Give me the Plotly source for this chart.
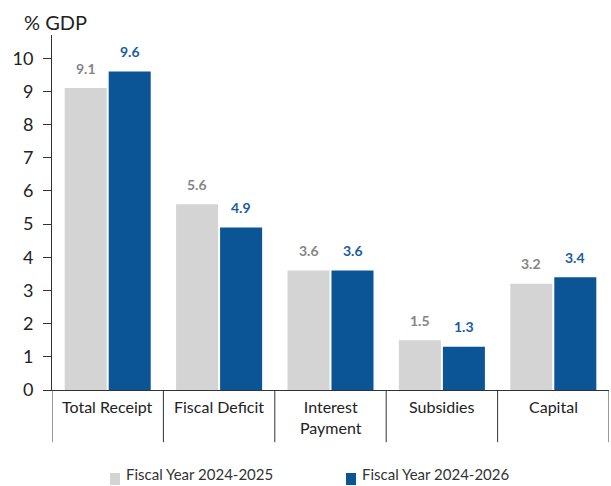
import plotly.graph_objects as go

categories = ["Total Receipt", "Fiscal Deficit", "Interest<br>Payment", "Subsidies", "Capital"]
series_names = ["Fiscal Year 2024-2025", "Fiscal Year 2024-2026"]
fy_2025 = [9.1, 5.6, 3.6, 1.5, 3.2]
fy_2026 = [9.6, 4.9, 3.6, 1.3, 3.4]
y_ticks = list(range(0, 11))

GRAY = "#d4d4d4"
BLUE = "#0b5596"
GRAY_TXT = "#858585"
BLUE_TXT = "#1a5c9c"
AXIS = "#333333"
FONT = "Lato, 'Open Sans', sans-serif"

x_idx = list(range(len(categories)))

fig = go.Figure()
for name, vals, col in [(series_names[0], fy_2025, GRAY), (series_names[1], fy_2026, BLUE)]:
    fig.add_trace(go.Bar(x=x_idx, y=vals, name=name, marker=dict(color=col, line=dict(width=0)),
                         showlegend=False))

annotations = []
# value labels above each bar
for vals, shift, col in [(fy_2025, -22, GRAY_TXT), (fy_2026, 22, BLUE_TXT)]:
    for i, v in zip(x_idx, vals):
        annotations.append(dict(x=i, y=v, xref="x", yref="y", text=f"<b>{v:.1f}</b>",
                                showarrow=False, xshift=shift, yshift=20, yanchor="middle",
                                font=dict(family=FONT, size=14, color=col)))

# category labels under the axis
for i, c in zip(x_idx, categories):
    annotations.append(dict(x=i, y=0, xref="x", yref="y", text=c, showarrow=False,
                            yanchor="top", yshift=-5, align="center",
                            font=dict(family=FONT, size=16, color="#222222")))

# axis title
annotations.append(dict(x=0, y=1, xref="paper", yref="paper", text="% GDP", showarrow=False,
                        xanchor="left", yanchor="middle", xshift=-30, yshift=13,
                        font=dict(family=FONT, size=20, color="#222222")))

shapes = []
# category separators extending below the axis
for k in range(len(categories) + 1):
    shapes.append(dict(type="line", xref="x", yref="paper", x0=k - 0.5, x1=k - 0.5,
                       y0=0, y1=-0.147, line=dict(color=AXIS, width=1)))

# legend entries
legend_items = [(series_names[0], GRAY, 110), (series_names[1], BLUE, 346)]
for name, col, px in legend_items:
    shapes.append(dict(type="rect", xref="paper", yref="paper",
                       x0=(px - 52) / 557, x1=(px + 10 - 52) / 557,
                       y0=-(485 - 390) / 355, y1=-(473 - 390) / 355,
                       fillcolor=col, line=dict(width=0)))
    annotations.append(dict(x=(px + 14 - 52) / 557, y=-(485 - 390) / 355, xref="paper", yref="paper",
                            text=name, showarrow=False, xanchor="left", yanchor="bottom",
                            font=dict(family=FONT, size=15, color="#333333")))

fig.update_layout(
    width=611, height=486,
    margin=dict(l=52, r=2, t=35, b=96),
    paper_bgcolor="white", plot_bgcolor="white",
    barmode="group", bargap=0.21, bargroupgap=0.045,
    font=dict(family=FONT, color="#222222"),
    xaxis=dict(range=[-0.5, 4.5], showticklabels=False, showgrid=False, zeroline=False,
               showline=True, linecolor=AXIS, linewidth=1, ticks=""),
    yaxis=dict(range=[0, 10.7], tickvals=y_ticks, showgrid=False, zeroline=False,
               showline=True, linecolor=AXIS, linewidth=1, ticks="outside", ticklen=8,
               tickcolor=AXIS, ticklabelstandoff=6, tickfont=dict(family=FONT, size=18, color="#222222")),
    annotations=annotations, shapes=shapes,
)

fig.write_html("out.html")
